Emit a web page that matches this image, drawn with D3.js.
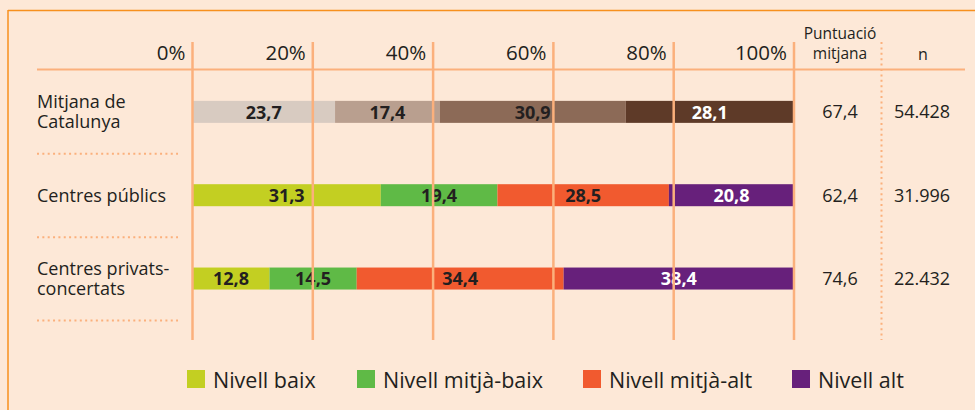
<!DOCTYPE html>
<html>
<head>
<meta charset="utf-8">
<script src="https://cdn.jsdelivr.net/npm/d3@7"></script>
<style>
  body { margin: 0; background: #fde8d7; }
  svg { display: block; font-family: "Open Sans", sans-serif; }
</style>
</head>
<body>
<svg id="chart" width="975" height="410"></svg>
<script>
// categories (row labels) and level names
const categories = ["Mitjana de\nCatalunya", "Centres públics", "Centres privats-\nconcertats"];
const levels = ["Nivell baix", "Nivell mitjà-baix", "Nivell mitjà-alt", "Nivell alt"];

// percentages per level for each row
const baix      = [23.7, 31.3, 12.8];
const mitjaBaix = [17.4, 19.4, 14.5];
const mitjaAlt  = [30.9, 28.5, 34.4];
const alt       = [28.1, 20.8, 38.4];

// right-hand columns
const puntuacio = ["67,4", "62,4", "74,6"];
const nValues   = ["54.428", "31.996", "22.432"];

const ticks = [0, 20, 40, 60, 80, 100];

// colours: first row uses browns, the others the legend palette
const brownColors  = ["#d8cbc1", "#b99f8f", "#8c6a57", "#5e3a28"];
const levelColors  = ["#c3cf22", "#5fba46", "#f15a2f", "#67207b"];
const gridColor = "#fbb07c";
const textColor = "#231f20";

const svg = d3.select("#chart");

const x = d3.scaleLinear().domain([0, 100]).range([192.5, 794]);
const y = d3.scaleBand().domain(d3.range(categories.length)).range([70, 320]);
const barH = 22;
const rowCenter = i => y(i) + y.bandwidth() / 2 + 0.2;

// outer frame (top and left edges)
svg.append("line").attr("x1", 8).attr("x2", 975).attr("y1", 10.5).attr("y2", 10.5)
  .attr("stroke", "#f7901e").attr("stroke-width", 1.5);
svg.append("line").attr("x1", 8).attr("x2", 8).attr("y1", 10).attr("y2", 410)
  .attr("stroke", "#f7901e").attr("stroke-width", 1.5);

// header underline
svg.append("line").attr("x1", 37).attr("x2", 965).attr("y1", 69.5).attr("y2", 69.5)
  .attr("stroke", gridColor).attr("stroke-width", 2);

// stacked bars
const rows = categories.map((c, i) => {
  const vals = [baix[i], mitjaBaix[i], mitjaAlt[i], alt[i]];
  let acc = 0;
  return vals.map((v, k) => {
    const seg = { row: i, k: k, v: v, x0: acc, x1: acc + v };
    acc += v;
    return seg;
  });
});

const segs = svg.append("g").selectAll("g").data(rows).join("g");
segs.selectAll("rect").data(d => d).join("rect")
  .attr("x", d => x(d.x0))
  .attr("width", d => Math.max(0, Math.min(x(d.x1), x(100)) - x(d.x0)))
  .attr("y", d => rowCenter(d.row) - barH / 2)
  .attr("height", barH)
  .attr("fill", d => d.row === 0 ? brownColors[d.k] : levelColors[d.k]);

// gridlines drawn over the bars
svg.append("g").selectAll("line").data(ticks).join("line")
  .attr("x1", d => x(d)).attr("x2", d => x(d))
  .attr("y1", 42).attr("y2", 340)
  .attr("stroke", gridColor).attr("stroke-width", 2.5);

// dotted separator between the two right columns
svg.append("line").attr("x1", 881.5).attr("x2", 881.5).attr("y1", 42).attr("y2", 340)
  .attr("stroke", gridColor).attr("stroke-width", 2).attr("stroke-dasharray", "2,3.4");

// segment labels
segs.selectAll("text").data(d => d).join("text")
  .attr("x", d => (x(d.x0) + Math.min(x(d.x1), x(100))) / 2)
  .attr("y", d => rowCenter(d.row) + 6.8)
  .attr("text-anchor", "middle")
  .attr("font-size", 18).attr("font-weight", "bold")
  .attr("fill", d => (d.k === 3) ? "#ffffff" : textColor)
  .text(d => d3.format(".1f")(d.v).replace(".", ","));

// tick labels
svg.append("g").selectAll("text").data(ticks).join("text")
  .attr("x", d => x(d) - 7).attr("y", 60)
  .attr("text-anchor", "end").attr("font-size", 20.5).attr("fill", textColor)
  .text(d => d + "%");

// column headers
const hdr = svg.append("g").attr("fill", textColor).attr("font-size", 15.5).attr("text-anchor", "middle");
hdr.append("text").attr("x", 840).attr("y", 39).text("Puntuació");
hdr.append("text").attr("x", 840).attr("y", 59).text("mitjana");
hdr.append("text").attr("x", 923).attr("y", 60).attr("font-size", 16).text("n");

// row labels
categories.forEach((c, i) => {
  const lines = c.split("\n");
  const t = svg.append("text").attr("x", 37).attr("font-size", 18).attr("fill", textColor);
  const y0 = rowCenter(i) + 6.5 - (lines.length - 1) * 10;
  lines.forEach((l, j) => t.append("tspan").attr("x", 37).attr("y", y0 + j * 20).text(l));
});

// dotted row separators
svg.append("g").selectAll("line").data(d3.range(categories.length)).join("line")
  .attr("x1", 37).attr("x2", 178)
  .attr("y1", i => y(i) + y.bandwidth() + 0.5).attr("y2", i => y(i) + y.bandwidth() + 0.5)
  .attr("stroke", gridColor).attr("stroke-width", 2).attr("stroke-dasharray", "2,3.35");

// right columns values
svg.append("g").selectAll("text").data(puntuacio).join("text")
  .attr("x", 840).attr("y", (d, i) => rowCenter(i) + 6.5)
  .attr("text-anchor", "middle").attr("font-size", 18).attr("fill", textColor).text(d => d);
svg.append("g").selectAll("text").data(nValues).join("text")
  .attr("x", 922).attr("y", (d, i) => rowCenter(i) + 6.5)
  .attr("text-anchor", "middle").attr("font-size", 18).attr("fill", textColor).text(d => d);

// legend
const legendX = [187, 357, 583, 792];
const lg = svg.append("g").selectAll("g").data(levels).join("g")
  .attr("transform", (d, i) => `translate(${legendX[i]},370)`);
lg.append("rect").attr("width", 18).attr("height", 18).attr("fill", (d, i) => levelColors[i]);
lg.append("text").attr("x", 26).attr("y", 17.5).attr("font-size", 21.5).attr("fill", textColor).text(d => d);
</script>
</body>
</html>
